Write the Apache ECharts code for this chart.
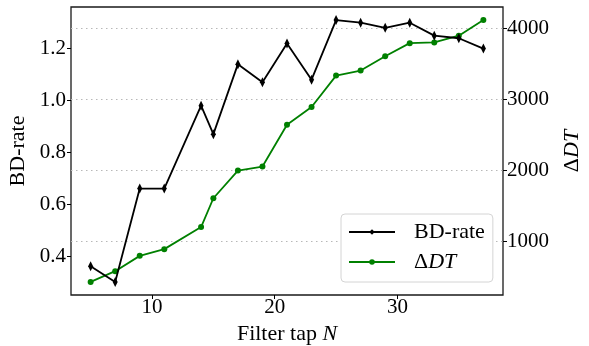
<!DOCTYPE html>
<html>
<head>
<meta charset="utf-8">
<script src="https://cdn.jsdelivr.net/npm/echarts@6/dist/echarts.min.js"></script>
<style>
  html, body { margin: 0; padding: 0; background: #fff; }
  #chart { width: 589px; height: 346px; }
</style>
</head>
<body>
<div id="chart"></div>
<script>
// filter taps N and the two measured series
const taps = [5, 7, 9, 11, 14, 15, 17, 19, 21, 23, 25, 27, 29, 31, 33, 35, 37];
const bdRate = [0.36, 0.30, 0.66, 0.66, 0.98, 0.87, 1.14, 1.07, 1.22, 1.08, 1.31, 1.30, 1.28, 1.30, 1.25, 1.24, 1.20];
const deltaDT = [423, 575, 791, 886, 1198, 1605, 1996, 2053, 2644, 2895, 3338, 3409, 3612, 3796, 3806, 3901, 4122];

const xTicks = [10, 20, 30];
const leftTicks = [0.4, 0.6, 0.8, 1.0, 1.2];
const rightTicks = [1000, 2000, 3000, 4000];

const FONT = "Liberation Serif";

// matplotlib style 5% margins
function padRange(arr) {
  const lo = Math.min(...arr), hi = Math.max(...arr);
  const m = (hi - lo) * 0.05;
  return [lo - m, hi + m];
}
const xr = padRange(taps), lr = padRange(bdRate), rr = padRange(deltaDT);

const italic = { it: { fontStyle: "italic", fontFamily: FONT, fontSize: 22, color: "#000" } };

const chart = echarts.init(document.getElementById("chart"), null, { renderer: "canvas" });

chart.setOption({
  animation: false,
  textStyle: { fontFamily: FONT },
  grid: {
    left: 71, right: 86, top: 7, bottom: 51,
    show: true, borderColor: "#1a1a1a", borderWidth: 1.3,
    outerBoundsMode: "none"
  },
  legend: {
    left: 341, top: 214,
    orient: "vertical",
    padding: [7, 8, 9, 7],
    itemGap: 8,
    itemWidth: 46, itemHeight: 7,
    backgroundColor: "#fff",
    borderColor: "#d4d4d4", borderWidth: 1, borderRadius: 4,
    textStyle: {
      fontFamily: FONT, fontSize: 22, color: "#000", lineHeight: 22,
      padding: [0, 0, 0, 14], rich: italic
    },
    formatter: (name) => name === "ΔDT" ? "Δ{it|DT}" : name,
    data: ["BD-rate", "ΔDT"]
  },
  xAxis: {
    type: "value",
    min: xr[0], max: xr[1],
    name: "Filter tap {it|N}",
    nameLocation: "middle", nameGap: 24,
    nameTextStyle: { fontFamily: FONT, fontSize: 22, color: "#000", rich: italic },
    axisLine: { show: false },
    axisTick: { show: true, length: 4, lineStyle: { color: "#000" }, customValues: xTicks },
    axisLabel: { fontFamily: FONT, fontSize: 21, color: "#000", margin: 2, customValues: xTicks },
    splitLine: { show: false }
  },
  yAxis: [
    {
      type: "value", position: "left",
      min: lr[0], max: lr[1],
      name: "BD-rate",
      nameLocation: "middle", nameGap: 38, nameRotate: 90,
      nameTextStyle: { fontFamily: FONT, fontSize: 22, color: "#000" },
      axisLine: { show: false },
      axisTick: { show: true, length: 4, lineStyle: { color: "#000" }, customValues: leftTicks },
      axisLabel: {
        fontFamily: FONT, fontSize: 21, color: "#000", margin: 5,
        customValues: leftTicks, formatter: (v) => v.toFixed(1)
      },
      splitLine: { show: false }
    },
    {
      type: "value", position: "right",
      min: rr[0], max: rr[1],
      name: "Δ{it|DT}",
      nameLocation: "middle", nameGap: 58, nameRotate: 90,
      nameTextStyle: { fontFamily: FONT, fontSize: 22, color: "#000", rich: italic },
      axisLine: { show: false },
      axisTick: { show: true, length: 4, lineStyle: { color: "#000" }, customValues: rightTicks },
      axisLabel: {
        fontFamily: FONT, fontSize: 21, color: "#000", margin: 4,
        customValues: rightTicks, formatter: (v) => String(v)
      },
      splitLine: {
        show: true,
        lineStyle: { color: "#b8b8b8", width: 1, type: [1.5, 3.5] }
      }
    }
  ],
  series: [
    {
      name: "BD-rate",
      type: "line",
      yAxisIndex: 0,
      data: taps.map((t, i) => [t, bdRate[i]]),
      symbol: "diamond",
      symbolSize: [5, 10],
      itemStyle: { color: "#000" },
      lineStyle: { color: "#000", width: 1.8 },
      z: 3
    },
    {
      name: "ΔDT",
      type: "line",
      yAxisIndex: 1,
      data: taps.map((t, i) => [t, deltaDT[i]]),
      symbol: "circle",
      symbolSize: 6,
      itemStyle: { color: "#008000" },
      lineStyle: { color: "#008000", width: 1.8 },
      z: 2
    }
  ]
});
</script>
</body>
</html>
